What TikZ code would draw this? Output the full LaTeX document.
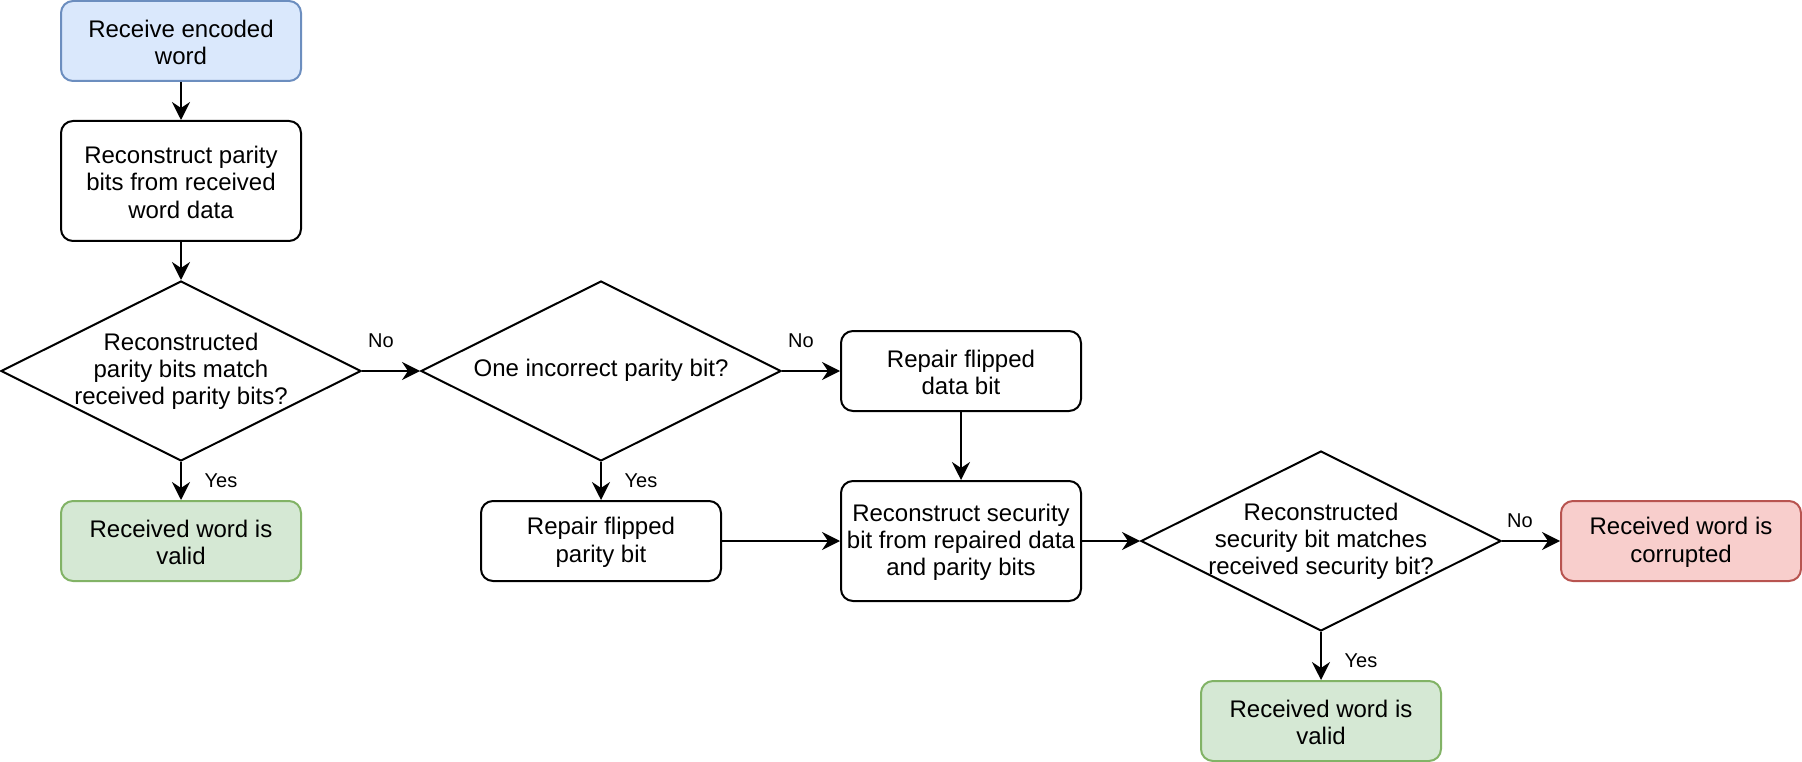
\documentclass[tikz,border=0pt]{standalone}
\usepackage{fontspec}
\setmainfont{Liberation Sans}
\usetikzlibrary{shapes.geometric,arrows.meta}
\definecolor{blueF}{HTML}{DAE8FC}
\definecolor{blueD}{HTML}{6C8EBF}
\definecolor{greenF}{HTML}{D5E8D4}
\definecolor{greenD}{HTML}{82B366}
\definecolor{redF}{HTML}{F8CECC}
\definecolor{redD}{HTML}{B85450}
\begin{document}
\begin{tikzpicture}[x=1pt,y=-1pt,
  box/.style={draw, line width=2pt, rounded corners=12pt, minimum width=240pt, minimum height=80pt, inner sep=0pt},
  tallbox/.style={box, minimum height=120pt},
  startbox/.style={box, fill=blueF, draw=blueD},
  goodbox/.style={box, fill=greenF, draw=greenD},
  badbox/.style={box, fill=redF, draw=redD},
  dia/.style={draw, line width=2pt, shape=diamond, aspect=2, inner sep=0pt, minimum width=360pt, minimum height=180pt},
  txt/.style={align=center, inner sep=0pt, yshift=-1.2pt, font=\fontsize{24}{27.4}\selectfont},
  lab/.style={inner sep=0pt, font=\fontsize{20}{23}\selectfont},
  arr/.style={line width=2pt, -{Stealth[length=18pt,width=18pt,inset=6pt]}}
]
\useasboundingbox (0,0) rectangle (1802,762);

\node[startbox] (start) at (181,41) {};
\node[txt] (startt) at (start) {Receive encoded\\word};
\node[tallbox] (recon) at (181,181) {};
\node[txt] (recont) at (recon) {Reconstruct parity\\bits from received\\word data};
\node[dia] (d1) at (181,371) {};
\node[txt] (d1t) at (181,370) {Reconstructed\\parity bits match\\received parity bits?};
\node[goodbox] (valid1) at (181,541) {};
\node[txt] (valid1t) at (valid1) {Received word is\\valid};

\node[dia] (d2) at (601,371) {};
\node[txt] (d2t) at (601,369) {One incorrect parity bit?};
\node[box] (repp) at (601,541) {};
\node[txt] (reppt) at (repp) {Repair flipped\\parity bit};
\node[box] (repd) at (961,371) {};
\node[txt] (repdt) at (repd) {Repair flipped\\data bit};
\node[tallbox] (recsec) at (961,541) {};
\node[txt] (recsect) at (recsec) {Reconstruct security\\bit from repaired data\\and parity bits};

\node[dia] (d3) at (1321,541) {};
\node[txt] (d3t) at (1321,540) {Reconstructed\\security bit matches\\received security bit?};
\node[badbox] (corrupt) at (1681,541) {};
\node[txt] (corruptt) at (corrupt) {Received word is\\corrupted};
\node[goodbox] (valid2) at (1321,721) {};
\node[txt] (valid2t) at (valid2) {Received word is\\valid};

\draw[arr] (start) -- (recon);
\draw[arr] (recon) -- (d1.north);
\draw[arr] (d1.south) -- (valid1);
\draw[arr] (d1.east) -- (d2.west);
\draw[arr] (d2.south) -- (repp);
\draw[arr] (d2.east) -- (repd.west);
\draw[arr] (repd) -- (recsec);
\draw[arr] (repp) -- (recsec);
\draw[arr] (recsec) -- (d3.west);
\draw[arr] (d3.east) -- (corrupt.west);
\draw[arr] (d3.south) -- (valid2);

\node[lab] (l1) at (381,341) {No};
\node[lab] (l2) at (221,481) {Yes};
\node[lab] (l3) at (801,341) {No};
\node[lab] (l4) at (641,481) {Yes};
\node[lab] (l5) at (1520,521) {No};
\node[lab] (l6) at (1361,661) {Yes};
\end{tikzpicture}
\end{document}
